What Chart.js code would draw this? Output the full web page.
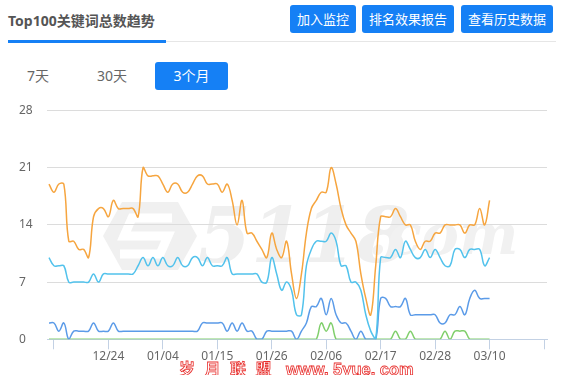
<!DOCTYPE html>
<html>
<head>
<meta charset="utf-8">
<script src="https://cdn.jsdelivr.net/npm/chart.js@4.4.1/dist/chart.umd.min.js"></script>
<style>
  body { margin: 0; width: 571px; height: 375px; background: #fff; position: relative; overflow: hidden;
         font-family: "Noto Sans", "Noto Sans CJK SC", sans-serif; }
  .abs { position: absolute; }
  #title { left: 8px; top: 11px; font-size: 14px; font-weight: bold; color: #555; line-height: 20px; white-space: nowrap; }
  #title_bar { left: 8px; top: 40px; width: 158px; height: 3px; background: #1580f5; }
  #title_line { left: 8px; top: 41px; width: 548px; height: 1px; background: #e6e6e6; }
  .btn { top: 5px; height: 28px; line-height: 28px; background: #1580f5; color: #fff; border-radius: 3px;
         font-size: 13px; text-align: center; font-family: "Noto Sans CJK SC", sans-serif; }
  .tab { top: 62px; height: 28px; line-height: 28px; font-size: 14px; color: #666; text-align: center; }
  .tab.on { background: #1580f5; color: #fff; border-radius: 3px; }
  #wm { left: 0; top: 0; }
  #chart_box { left: 0; top: 95px; width: 571px; height: 280px; }
  #red_mark { left: 179px; top: 356px; white-space: nowrap; color: #fff; -webkit-text-stroke: 0.8px #e8312f; font-weight: bold; }
  #red_mark .cn { font-family: "Noto Sans CJK SC"; font-size: 16px; letter-spacing: 9.5px; }
  #red_mark .en { font-family: "Liberation Sans"; font-size: 16.5px; margin-left: 5px; }
</style>
</head>
<body>
<div id="title" class="abs">Top100关键词总数趋势</div>
<div id="title_line" class="abs"></div>
<div id="title_bar" class="abs"></div>
<div class="abs btn" style="left:290px;width:66px">加入监控</div>
<div class="abs btn" style="left:362px;width:92px">排名效果报告</div>
<div class="abs btn" style="left:461px;width:92px">查看历史数据</div>
<div class="abs tab" style="left:18px;width:40px">7天</div>
<div class="abs tab" style="left:90px;width:44px">30天</div>
<div class="abs tab on" style="left:155px;width:73px">3个月</div>

<svg id="wm" class="abs" width="571" height="375">
  <polygon points="122,202 178,202 197,236 178,270 122,270 103,236" fill="#f0f0f0"/>
  <path d="M172,218 L132,218 L124,236 L168,236 L160,254 L120,254" fill="none" stroke="#fff" stroke-width="9"/>
  <text x="198" y="262" font-family="DejaVu Serif" font-style="italic" font-weight="bold" font-size="76" fill="#efefef">5118</text>
  <text x="368" y="254" font-family="DejaVu Serif" font-style="italic" font-weight="bold" font-size="56" fill="#f1f1f1">.com</text>
</svg>

<div id="chart_box" class="abs"><canvas id="trend"></canvas></div>

<div id="red_mark" class="abs"><span class="cn">岁月联盟</span><span class="en">www. 5yue. com</span></div>

<script>
// dates 12/12 .. 03/21, one per category
const dates = [
  '12/12','12/13','12/14','12/15','12/16','12/17','12/18','12/19','12/20','12/21','12/22','12/23','12/24','12/25','12/26','12/27','12/28','12/29','12/30','12/31',
  '01/01','01/02','01/03','01/04','01/05','01/06','01/07','01/08','01/09','01/10','01/11','01/12','01/13','01/14','01/15','01/16','01/17','01/18','01/19','01/20',
  '01/21','01/22','01/23','01/24','01/25','01/26','01/27','01/28','01/29','01/30','01/31',
  '02/01','02/02','02/03','02/04','02/05','02/06','02/07','02/08','02/09','02/10','02/11','02/12','02/13','02/14','02/15','02/16','02/17','02/18','02/19','02/20',
  '02/21','02/22','02/23','02/24','02/25','02/26','02/27','02/28','02/29',
  '03/01','03/02','03/03','03/04','03/05','03/06','03/07','03/08','03/09','03/10','03/11','03/12','03/13','03/14','03/15','03/16','03/17','03/18','03/19','03/20','03/21'
]
// indexes into dates where the x axis has a tick
const tickIdx = [1, 12, 23, 34, 45, 56, 67, 78, 89, 100]
const hiddenTicks = [1, 100]
const yTicks = [0, 7, 14, 21, 28]

const orange = [
  19,18,19,19,12,12,11,11,10,15, 16,16,15,17,16,16,16,16,15,21,
  20,20,20,19,18,19,19,18,18,19, 20,20,19,19,19,18,19,17,14,17,
  13,13,12,11,10,13,11,10,12,8,  5,8,13,16,17,18,18,21,19,16,
  14,13,12,8,5,3,9,15,15,15,     16,15,14,14,12,11,12,12,13,13,
  14,14,14,14,13,14,14,16,14,17
]
const cyan = [
  10,9,9,9,7,7,7,7,7,8,   7,8,8,8,8,8,8,8,9,10,
  9,10,9,10,9,9,10,9,9,10, 10,9,10,9,9,9,10,8,8,8,
  8,8,8,7,7,10,8,6,7,6,   3,3,9,11,12,12,12,13,12,9,
  9,7,7,6,3,1,0,10,10,10, 11,10,12,11,10,10,11,10,11,10,
  9,9,11,11,10,11,11,11,9,10
]
const blue = [
  2,2,1,2,0,1,1,1,1,2, 1,1,1,2,1,1,1,1,1,1,
  1,1,1,1,1,1,1,1,1,1, 1,2,2,2,2,2,1,2,1,2,
  1,1,0,0,1,1,1,1,1,1, 0,1,2,4,4,5,3,5,3,2,
  2,1,0,1,0,0,0,5,5,4, 4,4,5,3,3,3,3,3,3,2,
  2,3,3,4,3,5,6,5,5,5
]
const green = [
  0,0,0,0,0,0,0,0,0,0, 0,0,0,0,0,0,0,0,0,0,
  0,0,0,0,0,0,0,0,0,0, 0,0,0,0,0,0,0,0,0,0,
  0,0,0,0,0,0,0,0,0,0, 0,0,0,0,0,2,1,2,0,0,
  0,0,0,0,0,0,0,0,0,0, 1,0,0,1,0,0,0,0,0,0,
  1,0,1,1,1,0,0,0,0,0
]

const colors = ['#f6a53f', '#52c2ec', '#5b9be8', '#80cf6c']

function series(values, color) {
    return {
        data: values.map((v, i) => ({ x: i, y: v })),
        borderColor: color,
        borderWidth: 1.5,
        pointRadius: 0,
        tension: 0.4,
        fill: false
    }
}

new Chart(document.getElementById('trend').getContext('2d'), {
    type: 'line',
    data: {
        datasets: [
            series(orange, colors[0]),
            series(cyan, colors[1]),
            series(blue, colors[2]),
            series(green, colors[3])
        ]
    },
    options: {
        responsive: true,
        maintainAspectRatio: false,
        animation: false,
        events: [],
        layout: { padding: { left: 19, right: 24, top: 15.5, bottom: 0 } },
        plugins: { legend: { display: false }, tooltip: { enabled: false } },
        scales: {
            x: {
                type: 'linear',
                min: -0.4,
                max: 100.6,
                afterBuildTicks: s => { s.ticks = tickIdx.map(v => ({ value: v })) },
                afterFit: s => { s.height = 35.7 },
                grid: { drawOnChartArea: false, tickLength: 10, color: '#c3d1e4' },
                border: { color: '#c3d1e4' },
                ticks: {
                    autoSkip: false,
                    maxRotation: 0,
                    padding: 0,
                    color: '#666',
                    font: { size: 12, family: 'Noto Sans' },
                    callback: v => hiddenTicks.includes(v) ? '' : dates[v]
                }
            },
            y: {
                min: 0,
                max: 28,
                afterBuildTicks: s => { s.ticks = yTicks.map(v => ({ value: v })) },
                afterFit: s => { s.width = 28 },
                grid: { drawTicks: false, color: '#dcdcdc' },
                border: { display: false },
                ticks: {
                    crossAlign: 'far',
                    padding: 0,
                    color: '#666',
                    font: { size: 12, family: 'Noto Sans' }
                }
            }
        }
    }
})
</script>
</body>
</html>
